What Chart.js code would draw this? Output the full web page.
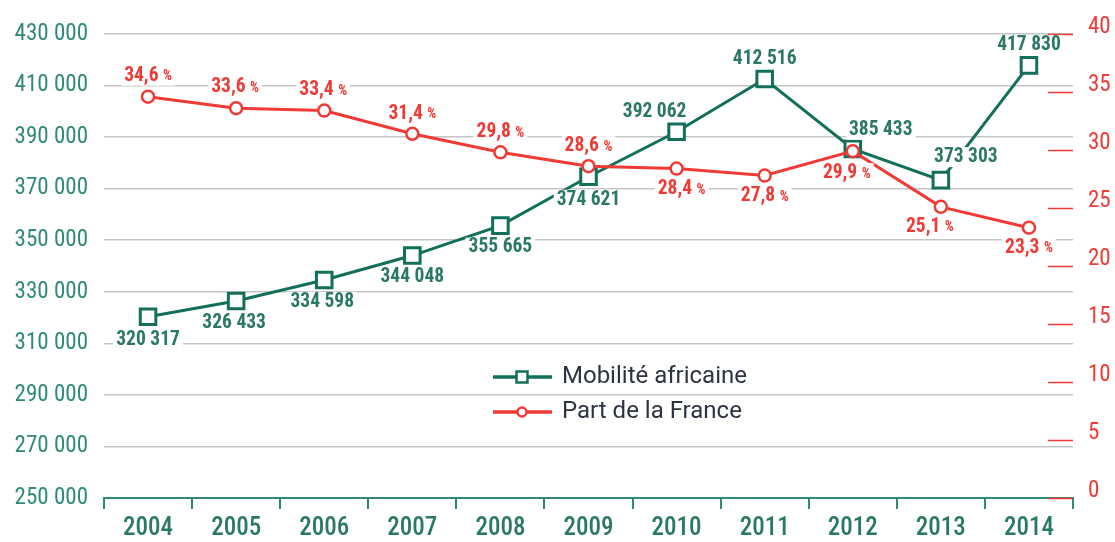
<!DOCTYPE html>
<html>
<head>
<meta charset="utf-8">
<script src="https://cdn.jsdelivr.net/npm/chart.js@4.4.1/dist/chart.umd.min.js"></script>
<style>
  html, body { margin: 0; padding: 0; background: #fff; }
  #wrap { width: 1115px; height: 542px; }
</style>
</head>
<body>
<div id="wrap"><canvas id="chart" width="1115" height="542"></canvas></div>
<script>
// data
const years = ['2004', '2005', '2006', '2007', '2008', '2009', '2010', '2011', '2012', '2013', '2014'];
const mobilite = [320317, 326433, 334598, 344048, 355665, 374621, 392062, 412516, 385433, 373303, 417830];
const partFrance = [34.6, 33.6, 33.4, 31.4, 29.8, 28.6, 28.4, 27.8, 29.9, 25.1, 23.3];
const leftTicks = [250000, 270000, 290000, 310000, 330000, 350000, 370000, 390000, 410000, 430000];
const rightTicks = [0, 5, 10, 15, 20, 25, 30, 35, 40];
const seriesNames = ['Mobilité africaine', 'Part de la France'];

// label offsets from each point (dx, dy)
const greenLabelOffset = [[0, 23], [-2, 22], [-2, 22], [0, 22], [0, 22], [0, 23], [-22, -20], [0, -20], [28, -19], [25, -23], [0, -20]];
const redLabelOffset = [[0, -21], [-1, -21], [-1, -20], [0, -20], [0, -20], [0, -20], [5, 21], [0, 21], [-6, 22], [-11, 20], [0, 20]];

const GREEN = '#12705a';
const GREEN_TXT = '#2a7866';
const TEAL = '#2f8a78';
const RED = '#ef3a35';
const GRID = '#c6c6c6';
const COND = "'Roboto Condensed', 'Liberation Sans Narrow', 'Arial Narrow', Roboto, sans-serif";

function fmt(v) {
    return String(v).replace(/\B(?=(\d{3})+(?!\d))/g, ' ');
}

const labelPlugin = {
    id: 'pointLabels',
    afterDatasetsDraw(chart) {
        const ctx = chart.ctx;
        ctx.save();
        ctx.textBaseline = 'middle';
        // green values
        const gm = chart.getDatasetMeta(0);
        ctx.font = 'bold 19.5px ' + COND;
        gm.data.forEach((pt, i) => {
            const txt = fmt(mobilite[i]);
            const x = pt.x + greenLabelOffset[i][0];
            const y = pt.y + greenLabelOffset[i][1];
            const w = ctx.measureText(txt).width;
            ctx.fillStyle = '#fff';
            ctx.fillRect(x - w / 2 - 3, y - 10, w + 6, 20);
            ctx.fillStyle = GREEN_TXT;
            ctx.textAlign = 'center';
            ctx.fillText(txt, x, y);
        });
        // red percentages
        const rm = chart.getDatasetMeta(1);
        rm.data.forEach((pt, i) => {
            const num = partFrance[i].toFixed(1).replace('.', ',');
            ctx.font = 'bold 19.5px ' + COND;
            const w1 = ctx.measureText(num + ' ').width;
            ctx.font = 'bold 14px ' + COND;
            const w2 = ctx.measureText('%').width;
            const w = w1 + w2;
            const x = pt.x + redLabelOffset[i][0] - w / 2;
            const y = pt.y + redLabelOffset[i][1];
            ctx.fillStyle = '#fff';
            ctx.fillRect(x - 3, y - 10, w + 6, 20);
            ctx.fillStyle = RED;
            ctx.textAlign = 'left';
            ctx.font = 'bold 19.5px ' + COND;
            ctx.fillText(num + ' ', x, y);
            ctx.font = 'bold 14px ' + COND;
            ctx.fillText('%', x + w1, y + 1);
        });
        ctx.restore();
    }
};

const redTicksPlugin = {
    id: 'redTicks',
    afterDatasetsDraw(chart) {
        const ctx = chart.ctx;
        const y2 = chart.scales.y2;
        const right = chart.chartArea.right;
        ctx.save();
        ctx.strokeStyle = RED;
        ctx.lineWidth = 1.5;
        rightTicks.forEach(v => {
            const y = Math.round(y2.getPixelForValue(v)) + 0.5;
            ctx.beginPath();
            ctx.moveTo(right - 25, y);
            ctx.lineTo(right, y);
            ctx.stroke();
        });
        ctx.restore();
    }
};

const legendPlugin = {
    id: 'insideLegend',
    afterDraw(chart) {
        const ctx = chart.ctx;
        const x0 = 493, x1 = 552, xm = 522, tx = 562;
        const rows = [377, 412];
        ctx.save();
        ctx.font = '24px Roboto, sans-serif';
        ctx.textBaseline = 'middle';
        ctx.textAlign = 'left';
        rows.forEach((y, i) => {
            const col = i === 0 ? GREEN : RED;
            ctx.strokeStyle = col;
            ctx.lineWidth = 3.5;
            ctx.beginPath();
            ctx.moveTo(x0, y);
            ctx.lineTo(x1, y);
            ctx.stroke();
            ctx.fillStyle = '#fff';
            ctx.lineWidth = 2.5;
            ctx.beginPath();
            if (i === 0) {
                ctx.rect(xm - 5.5, y - 5.5, 11, 11);
            } else {
                ctx.arc(xm, y, 4.5, 0, Math.PI * 2);
            }
            ctx.fill();
            ctx.stroke();
            ctx.fillStyle = '#2d3340';
            ctx.fillText(seriesNames[i], tx, y);
        });
        ctx.restore();
    }
};

const ctx = document.getElementById('chart').getContext('2d');
const chart = new Chart(ctx, {
    type: 'line',
    data: {
        labels: years,
        datasets: [
            {
                label: seriesNames[0],
                data: mobilite,
                yAxisID: 'y',
                borderColor: GREEN,
                borderWidth: 3,
                backgroundColor: '#fff',
                pointStyle: 'rect',
                pointRadius: 11,
                pointBorderWidth: 3,
                pointBorderColor: GREEN,
                pointBackgroundColor: '#fff',
                tension: 0,
                order: 1
            },
            {
                label: seriesNames[1],
                data: partFrance,
                yAxisID: 'y2',
                borderColor: RED,
                borderWidth: 3,
                backgroundColor: '#fff',
                pointStyle: 'circle',
                pointRadius: 6,
                pointBorderWidth: 2.5,
                pointBorderColor: RED,
                pointBackgroundColor: '#fff',
                tension: 0,
                order: 0
            }
        ]
    },
    options: {
        responsive: false,
        animation: false,
        layout: { padding: { top: 34, left: 0, right: 0, bottom: 0 } },
        plugins: {
            legend: { display: false },
            tooltip: { enabled: false }
        },
        scales: {
            x: {
                offset: true,
                grid: {
                    offset: true,
                    drawOnChartArea: false,
                    drawTicks: true,
                    tickLength: 11,
                    tickColor: TEAL,
                    lineWidth: 2
                },
                border: { display: true, color: TEAL, width: 2 },
                ticks: {
                    color: GREEN_TXT,
                    font: { family: COND, size: 25, weight: '500' },
                    padding: 5,
                    maxRotation: 0
                },
                afterFit: s => { s.height = 44; }
            },
            y: {
                position: 'left',
                min: 250000,
                max: 430000,
                afterBuildTicks: s => { s.ticks = leftTicks.map(v => ({ value: v })); },
                grid: { color: GRID, lineWidth: 1.5, drawTicks: false },
                border: { display: false },
                ticks: {
                    color: TEAL,
                    font: { family: COND, size: 23 },
                    padding: 16,
                    callback: v => fmt(v)
                },
                afterFit: s => { s.width = 104; }
            },
            y2: {
                position: 'right',
                min: 0,
                max: 40,
                afterBuildTicks: s => { s.ticks = rightTicks.map(v => ({ value: v })); },
                grid: { drawOnChartArea: false, drawTicks: false },
                border: { display: false },
                ticks: {
                    color: RED,
                    font: { family: COND, size: 23 },
                    padding: 15,
                    labelOffset: -7
                },
                afterFit: s => { s.width = 42; }
            }
        }
    },
    plugins: [redTicksPlugin, labelPlugin, legendPlugin]
});
</script>
</body>
</html>
